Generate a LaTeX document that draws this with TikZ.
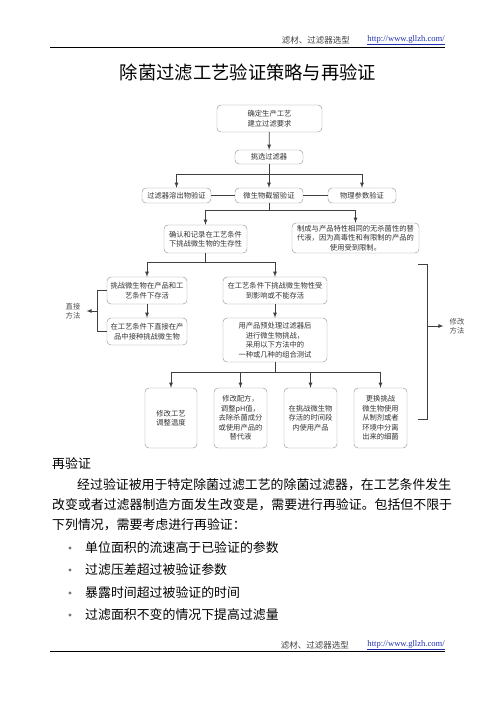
\documentclass[tikz,border=0pt]{standalone}
\usepackage{fontspec}
\setmainfont{Noto Sans CJK SC}
\newfontfamily\urlfont{Liberation Serif}
\usetikzlibrary{positioning}
\definecolor{boxline}{HTML}{8C8C8C}
\definecolor{linkgray}{HTML}{404040}
\definecolor{urlblue}{HTML}{1F2FB0}
\begin{document}
\begin{tikzpicture}[x=1pt,y=-1pt,
    box/.style={draw=boxline,rounded corners=4pt,align=center,inner sep=0pt,
      font=\fontsize{7.3}{9.5}\selectfont,text=black!80},
    link/.style={draw=linkgray,line width=0.8pt},
    side/.style={align=center,inner sep=0pt,font=\fontsize{7.3}{9.5}\selectfont,text=black!70},
    body/.style={anchor=west,inner sep=0pt,font=\fontsize{12.9}{14}\selectfont},
    head/.style={inner sep=0pt,font=\fontsize{8.5}{10}\selectfont,text=black!75},
    url/.style={inner sep=0pt,font=\urlfont\fontsize{8.6}{10}\selectfont,text=urlblue}]
  \useasboundingbox (0,0) rectangle (496,702);
  % header and title
  \node[head,anchor=east] (hdr) at (350,40) {滤材、过滤器选型};
  \node[url,anchor=east] (hdrurl) at (445,40) {\underline{http://www.gllzh.com/}};
  \draw[line width=1pt] (50,47) -- (445,47);
  \node[inner sep=0pt,font=\fontsize{18.3}{20}\selectfont] (title) at (248,73) {除菌过滤工艺验证策略与再验证};
  % flow chart
  \node[box,minimum width=105pt,minimum height=27pt] (spec) at (269.5,118.5) {确定生产工艺\\建立过滤要求};
  \node[box,minimum width=68pt,minimum height=14pt] (pick) at (269,157) {挑选过滤器};
  \node[box,minimum width=69pt,minimum height=15pt] (leach) at (176.5,195.5) {过滤器溶出物验证};
  \node[box,minimum width=68pt,minimum height=15pt] (retain) at (269,195.5) {微生物截留验证};
  \node[box,minimum width=68pt,minimum height=15pt] (phys) at (362,195.5) {物理参数验证};
  \node[box,minimum width=83pt,minimum height=28pt] (viab) at (205.5,239) {确认和记录在工艺条件\\下挑战微生物的生存性};
  \node[box,minimum width=127pt,minimum height=30pt] (surr) at (355.5,238) {制成与产品特性相同的无杀菌性的替\\代液，因为高毒性和有限制的产品的\\使用受到限制。};
  \node[box,minimum width=80pt,minimum height=27pt] (surv) at (147,290.5) {挑战微生物在产品和工\\艺条件下存活};
  \node[box,minimum width=80pt,minimum height=27pt] (inoc) at (147,331.5) {在工艺条件下直接在产\\品中接种挑战微生物};
  \node[box,minimum width=104pt,minimum height=27pt] (aff) at (275,290.5) {在工艺条件下挑战微生物性受\\到影响或不能存活};
  \node[box,minimum width=104pt,minimum height=44pt] (pre) at (275,340) {用产品预处理过滤器后\\进行微生物挑战，\\采用以下方法中的\\一种或几种的组合测试};
  \node[box,minimum width=52pt,minimum height=60pt] (temp) at (171,418) {修改工艺\\调整温度};
  \node[box,minimum width=53pt,minimum height=60pt] (recipe) at (240.5,418) {修改配方，\\调整pH值，\\去除杀菌成分\\或使用产品的\\替代液};
  \node[box,minimum width=53pt,minimum height=60pt] (window) at (310.5,418) {在挑战微生物\\存活的时间段\\内使用产品};
  \node[box,minimum width=53pt,minimum height=60pt] (isolate) at (380.5,418) {更换挑战\\微生物使用\\从制剂或者\\环境中分离\\出来的细菌};
  \node[side] (direct) at (73,311) {直接\\方法};
  \node[side] (modify) at (457,326) {修改\\方法};
  % connectors
  \coordinate (split1) at (269,174);
  \coordinate (split2) at (269,210);
  \coordinate (split3) at (205.5,262);
  \coordinate (split4) at (275,372);
  \draw[link,-latex] (spec) -- (pick);
  \draw[link] (pick) -- (split1);
  \draw[link,-latex] (split1) -| (leach);
  \draw[link,-latex] (split1) -- (retain);
  \draw[link,-latex] (split1) -| (phys);
  \draw[link] (leach) -- (retain);
  \draw[link] (retain) -- (phys);
  \draw[link] (retain) -- (split2);
  \draw[link,-latex] (split2) -| (viab);
  \draw[link,-latex] (split2) -| (surr);
  \draw[link] (viab) -- (split3);
  \draw[link,-latex] (split3) -| (surv);
  \draw[link,-latex] (split3) -| (aff);
  \draw[link,-latex] (surv) -- (inoc);
  \draw[link,-latex] (aff) -- (pre);
  \draw[link] (pre) -- (split4);
  \draw[link,-latex] (split4) -| (temp);
  \draw[link,-latex] (split4) -| (recipe);
  \draw[link,-latex] (split4) -| (window);
  \draw[link,-latex] (split4) -| (isolate);
  % brackets
  \coordinate (lmid) at (98,311);
  \coordinate (rtop) at (418,264);
  \coordinate (rbot) at (418,419);
  \coordinate (rmid) at (427,326);
  \draw[link] (surv.west) -- ++(-9,0) |- (inoc.west);
  \draw[link,-latex,shorten >=6pt] (lmid) -- (direct);
  \draw[link] (rtop) -- ++(9,0) |- (rbot);
  \draw[link,-latex,shorten >=6pt] (rmid) -- (modify);
  % text below
  \node[body] (sub) at (52,464) {再验证};
  \node[body] (para1) at (77,485) {经过验证被用于特定除菌过滤工艺的除菌过滤器，在工艺条件发生};
  \node[body] (para2) at (52,505) {改变或者过滤器制造方面发生改变是，需要进行再验证。包括但不限于};
  \node[body] (para3) at (52,525) {下列情况，需要考虑进行再验证：};
  \fill[black!55] (70,548) circle (1.6) (70,570) circle (1.6) (70,593) circle (1.6) (70,615) circle (1.6);
  \node[body] (item1) at (85,548) {单位面积的流速高于已验证的参数};
  \node[body] (item2) at (85,570) {过滤压差超过被验证参数};
  \node[body] (item3) at (85,593) {暴露时间超过被验证的时间};
  \node[body] (item4) at (85,615) {过滤面积不变的情况下提高过滤量};
  % footer
  \node[head,anchor=east] (ftr) at (349,645) {滤材、过滤器选型};
  \node[url,anchor=east] (ftrurl) at (445,645) {\underline{http://www.gllzh.com/}};
  \draw[line width=1pt] (50,651) -- (445,651);
\end{tikzpicture}
\end{document}
